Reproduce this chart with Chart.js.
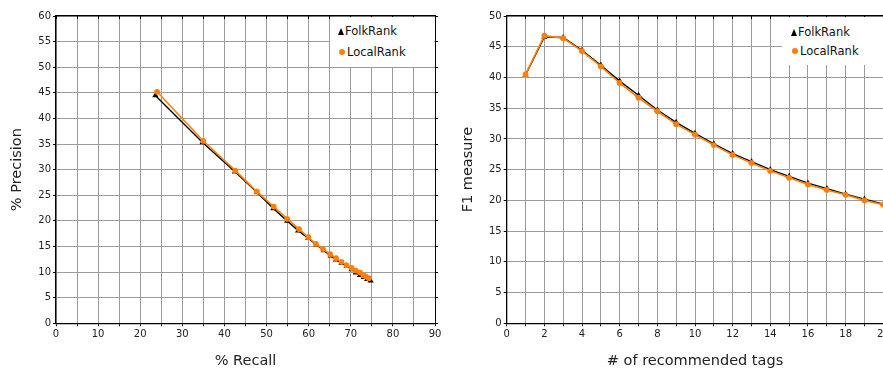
<!DOCTYPE html>
<html>
<head>
<meta charset="utf-8">
<title>FolkRank vs LocalRank</title>
<script src="https://cdn.jsdelivr.net/npm/chart.js@4/dist/chart.umd.min.js"></script>
<style>
    html, body { margin: 0; padding: 0; background: #fff; overflow: hidden; width: 883px; height: 370px; }
    #wrap { position: relative; width: 883px; height: 370px; overflow: hidden; }
    canvas { position: absolute; top: 0; }
    #prChart { left: 0; }
    #f1Chart { left: 450px; }
    .legendBox { position: absolute; background: #fff; font-family: "DejaVu Sans", sans-serif; font-size: 11.5px; color: #111; }
    .legendRow { position: absolute; left: 0; white-space: nowrap; line-height: 14px; }
    .tri { display: inline-block; width: 0; height: 0; border-left: 3.5px solid transparent; border-right: 3.5px solid transparent; border-bottom: 7px solid #000; margin-right: 1px; vertical-align: 0px; }
    .dot { display: inline-block; width: 6px; height: 6px; border-radius: 50%; background: #ff7f0a; margin-right: 2px; margin-left: 1px; vertical-align: 1px; }
</style>
</head>
<body>
<div id="wrap">
    <canvas id="prChart" width="445" height="370"></canvas>
    <canvas id="f1Chart" width="445" height="370"></canvas>

    <div class="legendBox" style="left:330px; top:17px; width:104px; height:50px;">
        <div class="legendRow" style="left:8px; top:7px;"><span class="tri"></span>FolkRank</div>
        <div class="legendRow" style="left:8px; top:28px;"><span class="dot"></span>LocalRank</div>
    </div>
    <div class="legendBox" style="left:782px; top:17px; width:101px; height:48px;">
        <div class="legendRow" style="left:9px; top:8px;"><span class="tri"></span>FolkRank</div>
        <div class="legendRow" style="left:9px; top:27px;"><span class="dot"></span>LocalRank</div>
    </div>
</div>

<script>
'use strict';

//series names
var seriesNames = ["FolkRank", "LocalRank"];

//precision / recall curve, one point per number of recommended tags (1..20)
var recallFolk     = [23.6, 34.8, 42.5, 47.7, 51.6, 54.9, 57.5, 59.9, 61.9, 63.6, 65.2, 66.5, 67.8, 69.0, 70.2, 71.2, 72.2, 73.1, 73.9, 74.7];
var precisionFolk  = [44.5, 35.3, 29.6, 25.6, 22.4, 20.0, 18.1, 16.6, 15.3, 14.2, 13.2, 12.4, 11.8, 11.2, 10.5, 9.9, 9.4, 9.0, 8.6, 8.3];
var recallLocal    = [24.0, 35.0, 42.6, 47.7, 51.7, 54.9, 57.7, 59.9, 61.7, 63.4, 65.1, 66.5, 67.8, 69.0, 70.2, 71.2, 72.2, 73.0, 73.6, 74.3];
var precisionLocal = [45.2, 35.6, 29.8, 25.7, 22.8, 20.4, 18.4, 16.8, 15.5, 14.5, 13.5, 12.7, 12.0, 11.3, 10.8, 10.3, 9.9, 9.4, 9.1, 8.8];

//F1 measure per number of recommended tags
var tagCounts = [1, 2, 3, 4, 5, 6, 7, 8, 9, 10, 11, 12, 13, 14, 15, 16, 17, 18, 19, 20];
var f1Folk    = [40.4, 46.6, 46.5, 44.4, 42.0, 39.4, 37.1, 34.7, 32.7, 30.9, 29.2, 27.6, 26.3, 25.0, 23.9, 22.8, 21.9, 21.0, 20.2, 19.4];
var f1Local   = [40.5, 46.8, 46.4, 44.3, 41.8, 39.1, 36.7, 34.5, 32.4, 30.7, 29.0, 27.4, 26.1, 24.8, 23.7, 22.6, 21.7, 20.9, 20.0, 19.3];

//axis ranges and titles
var recallRange    = [0, 90];
var precisionRange = [0, 60];
var tagRange       = [0, 20];
var f1Range        = [0, 50];
var axisTitles = {
    recall: "% Recall",
    precision: "% Precision",
    tags: "# of recommended tags",
    f1: "F1 measure"
};

var gridColor = '#9c9c9c';
var tickFont = { family: "DejaVu Sans", size: 10 };
var titleFont = { family: "DejaVu Sans", size: 14.5 };

Chart.defaults.font.family = "DejaVu Sans";
Chart.defaults.color = '#222';


/*
************************************************************************
*/

function zipPoints(xs, ys){
    return xs.map(function(x, i){
        return { x: x, y: ys[i] };
    });
}

function folkDataset(points){
    return {
        label: seriesNames[0],
        data: points,
        borderColor: '#000',
        backgroundColor: '#000',
        borderWidth: 1.4,
        pointStyle: 'triangle',
        pointRadius: 3.6,
        pointBorderWidth: 0,
        pointBackgroundColor: '#000',
        order: 1
    };
}

function localDataset(points){
    return {
        label: seriesNames[1],
        data: points,
        borderColor: '#ff7f0a',
        backgroundColor: '#ff7f0a',
        borderWidth: 1.6,
        pointStyle: 'circle',
        pointRadius: 2.9,
        pointBorderWidth: 0,
        pointBackgroundColor: '#ff7f0a',
        order: 0
    };
}

/**
 * builds the scales: bottom + left with labels, top + right as plain frame with ticks
 */
function buildScales(xRange, xStep, xLabelEvery, yRange, yStep, xTitle, yTitle, yWidth, xHeight, yTitlePad){
    return {
        x: {
            type: 'linear',
            position: 'bottom',
            min: xRange[0], max: xRange[1],
            grid: { color: gridColor, tickColor: '#000', tickLength: 3, lineWidth: 1 },
            border: { color: '#000', width: 1.3 },
            ticks: {
                stepSize: xStep, autoSkip: false, maxRotation: 0, padding: 2,
                font: tickFont, color: '#222',
                callback: function(v){ return v % xLabelEvery === 0 ? v : ''; }
            },
            title: { display: true, text: xTitle, font: titleFont, color: '#222', padding: { top: 0, bottom: 0 } },
            afterFit: function(scale){ scale.height = xHeight; }
        },
        y: {
            type: 'linear',
            position: 'left',
            min: yRange[0], max: yRange[1],
            grid: { color: gridColor, tickColor: '#000', tickLength: 3, lineWidth: 1 },
            border: { color: '#000', width: 1.3 },
            ticks: { stepSize: yStep, autoSkip: false, padding: 2, font: tickFont, color: '#222' },
            title: { display: true, text: yTitle, font: titleFont, color: '#222', padding: { top: yTitlePad, bottom: 0 } },
            afterFit: function(scale){ scale.width = yWidth; }
        },
        x2: {
            type: 'linear',
            position: 'top',
            min: xRange[0], max: xRange[1],
            grid: { drawOnChartArea: false, tickColor: '#000', tickLength: -3 },
            border: { color: '#000', width: 1.3 },
            ticks: { stepSize: xStep, autoSkip: false, display: false },
            afterFit: function(scale){ scale.height = 0; }
        },
        y2: {
            type: 'linear',
            position: 'right',
            min: yRange[0], max: yRange[1],
            grid: { drawOnChartArea: false, tickColor: '#000', tickLength: 3 },
            border: { color: '#000', width: 1 },
            ticks: { stepSize: yStep, autoSkip: false, display: false },
            afterFit: function(scale){ scale.width = 0; }
        }
    };
}

function baseOptions(scales, padding){
    return {
        responsive: false,
        animation: false,
        layout: { padding: padding },
        plugins: {
            legend: { display: false },
            tooltip: { enabled: false }
        },
        scales: scales
    };
}


/*
************************************************************************
*/

//precision vs recall
new Chart(document.getElementById("prChart").getContext("2d"), {
    type: 'line',
    data: {
        datasets: [
            folkDataset(zipPoints(recallFolk, precisionFolk)),
            localDataset(zipPoints(recallLocal, precisionLocal))
        ]
    },
    options: baseOptions(
        buildScales(recallRange, 5, 10, precisionRange, 5, axisTitles.recall, axisTitles.precision, 56, 46.7, 8.6),
        { left: 0, right: 10, top: 16, bottom: 0 }
    )
});

//F1 vs number of tags (right part is cut by the page edge, like the original)
new Chart(document.getElementById("f1Chart").getContext("2d"), {
    type: 'line',
    data: {
        datasets: [
            folkDataset(zipPoints(tagCounts, f1Folk)),
            localDataset(zipPoints(tagCounts, f1Local))
        ]
    },
    options: baseOptions(
        buildScales(tagRange, 1, 2, f1Range, 5, axisTitles.tags, axisTitles.f1, 56.7, 46.7, 9.6),
        { left: 0, right: 11.7, top: 16, bottom: 0 }
    )
});
</script>
</body>
</html>
